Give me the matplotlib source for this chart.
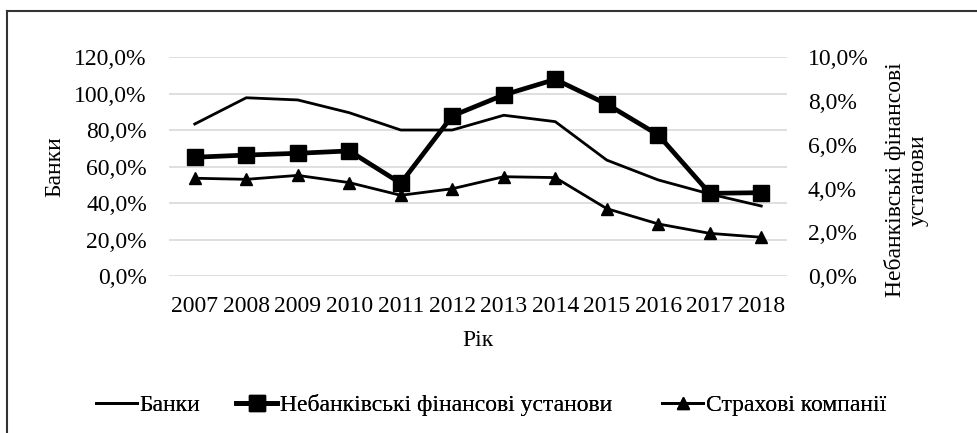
import matplotlib.pyplot as plt
from matplotlib.lines import Line2D
from matplotlib.ticker import FuncFormatter

years = ["2007", "2008", "2009", "2010", "2011", "2012",
         "2013", "2014", "2015", "2016", "2017", "2018"]
banks = [83.4, 97.8, 96.6, 89.6, 80.1, 80.1, 88.2, 84.7, 63.6, 52.7, 45.0, 38.4]
nonbank = [5.43, 5.53, 5.61, 5.72, 4.24, 7.32, 8.28, 8.99, 7.86, 6.45, 3.78, 3.81]
insurance = [4.47, 4.42, 4.60, 4.27, 3.69, 3.99, 4.54, 4.50, 3.08, 2.38, 1.95, 1.77]

plt.rcParams['font.family'] = ['Liberation Serif', 'DejaVu Serif']
fs = 17

def pct(v, pos):
    return ("%.1f%%" % v).replace(".", ",")

fig = plt.figure(figsize=(9.78, 4.33), dpi=100)
ax = fig.add_axes([169/978, 1 - 276/433, 618/978, 218.7/433])
ax2 = ax.twinx()

x = list(range(len(years)))
l1, = ax.plot(x, banks, color='black', lw=2, label='Банки')
l2, = ax2.plot(x, nonbank, color='black', lw=3.4, marker='s', ms=11,
               label='Небанківські фінансові установи')
l3, = ax2.plot(x, insurance, color='black', lw=2, marker='^', ms=8,
               label='Страхові компанії')

ax.set_xlim(-0.5, len(years) - 0.5)
ax.set_ylim(0, 120)
ax.set_yticks(range(0, 121, 20))
ax2.set_ylim(0, 10)
ax2.set_yticks(range(0, 11, 2))
ax.yaxis.set_major_formatter(FuncFormatter(pct))
ax2.yaxis.set_major_formatter(FuncFormatter(pct))

ax.set_xticks(x)
ax.set_xticklabels(years)
ax.grid(axis='y', color='#d9d9d9', lw=1.2)
ax.set_axisbelow(True)
for a in (ax, ax2):
    for s in a.spines.values():
        s.set_visible(False)
ax.tick_params(axis='x', length=0, pad=14.5, labelsize=fs)
ax.tick_params(axis='y', length=0, pad=16, labelsize=fs)
ax2.tick_params(axis='y', length=0, pad=15, labelsize=fs)

fig.text(55/978, 1 - 167/433, 'Банки', rotation=90, fontsize=fs,
         ha='center', va='center')
fig.text(906/978, 1 - 180/433, 'Небанківські фінансові\nустанови', rotation=90,
         fontsize=fs, ha='center', va='center', linespacing=1.1)
fig.text(478/978, 1 - 341/433, 'Рік', fontsize=fs, ha='center', va='center')

# legend entries placed one by one
leg_y = 1 - 405/433
for handle, left in ((l1, 96), (l2, 236), (l3, 662)):
    leg = fig.legend(handles=[handle], loc='center left',
                     bbox_to_anchor=(left/978, leg_y), frameon=False, fontsize=fs,
                     handlelength=1.75, handletextpad=0.1, borderpad=0,
                     borderaxespad=0)
    fig.add_artist(leg)

# outer frame (top and left edges)
fig.add_artist(Line2D([7/978, 1], [1 - 11/433, 1 - 11/433], color='#333333', lw=1.5,
                      transform=fig.transFigure))
fig.add_artist(Line2D([7/978, 7/978], [0, 1 - 11/433], color='#333333', lw=1.5,
                      transform=fig.transFigure))

fig.savefig('out.png', dpi=100)
